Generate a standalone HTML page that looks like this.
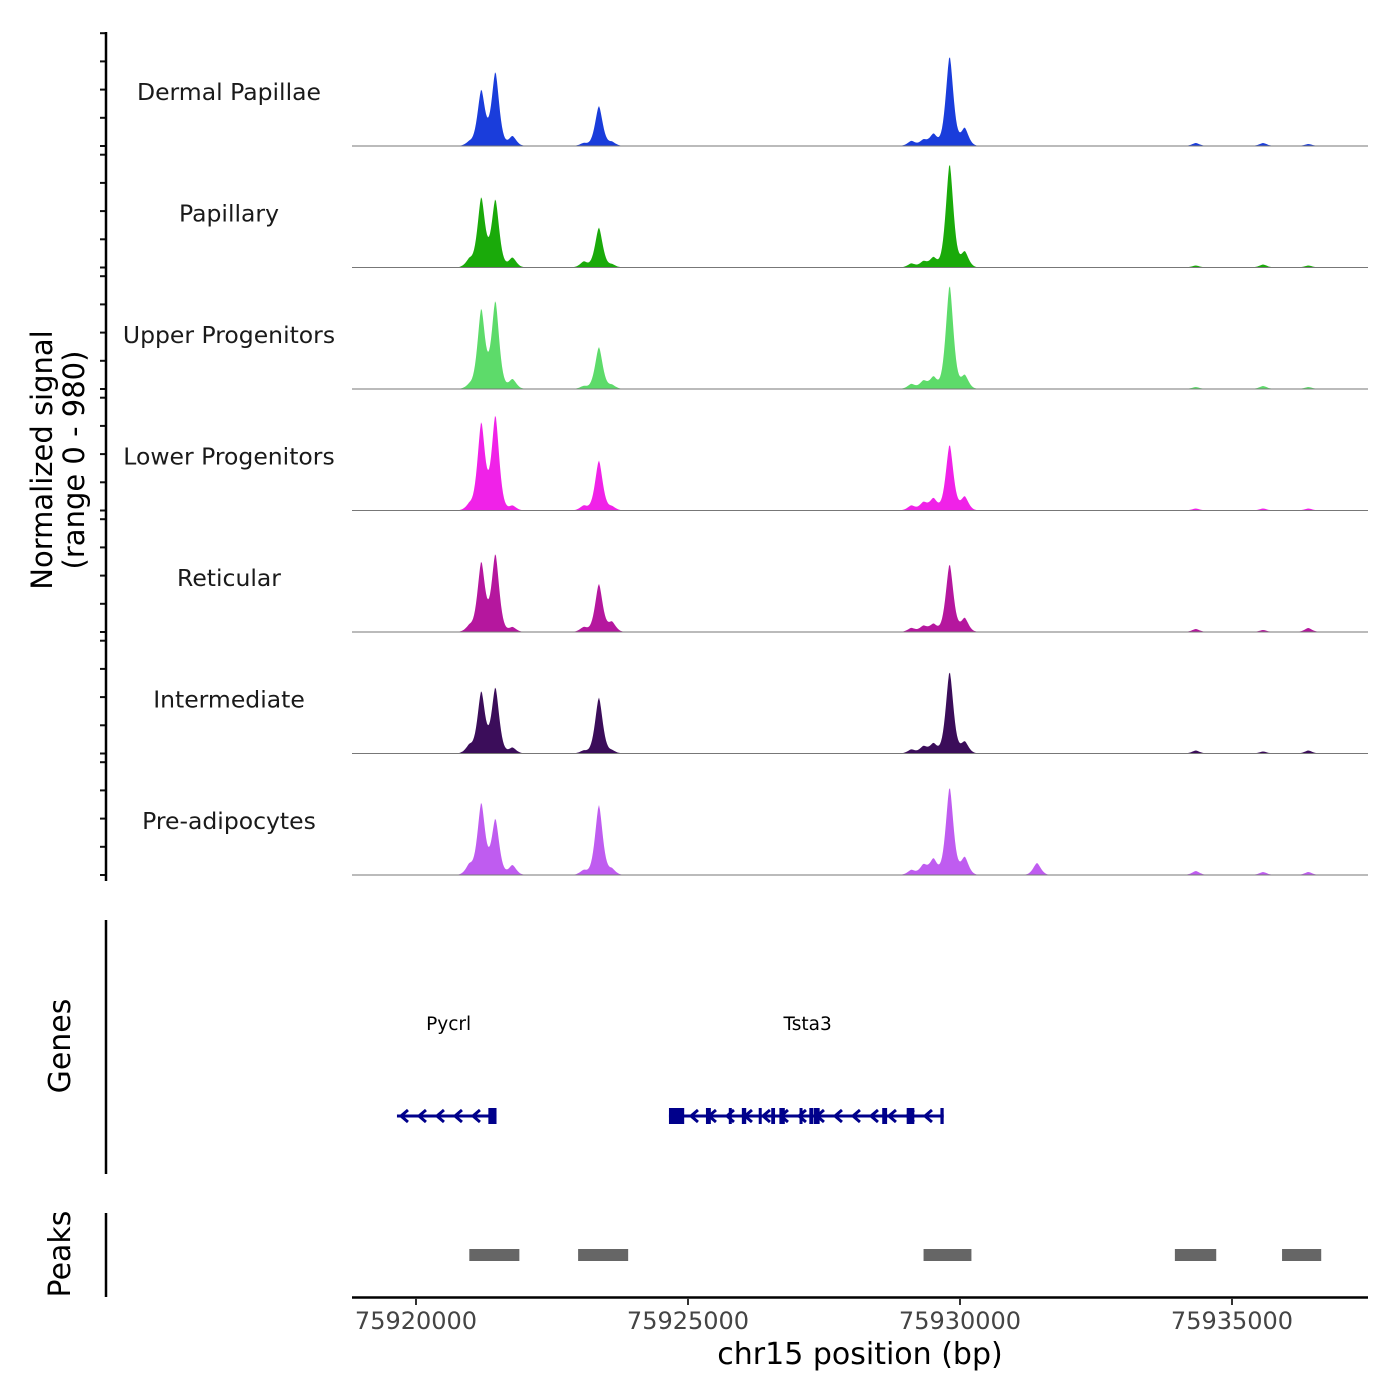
<!DOCTYPE html>
<html><head><meta charset="utf-8"><style>
body{margin:0;background:#fff}
svg{display:block;font-family:"DejaVu Sans","Liberation Sans",sans-serif}
</style></head><body>
<svg id="chart" width="1400" height="1400" viewBox="0 0 1400 1400"></svg>
<script>
const cellTypes=["Dermal Papillae","Papillary","Upper Progenitors","Lower Progenitors","Reticular","Intermediate","Pre-adipocytes"];
const colors=["#1a3ddb","#1aaa0a","#5ddb6a","#f022e8","#b5179e","#3b0d5a","#bf5cf0"];
const peakPos=[75920979,75921200,75921459,75921773,75923085,75923362,75923602,75929106,75929328,75929513,75929809,75930086,75931415,75934334,75935571,75936403];
const hDP=[4,56,74,10,3,40,4,5,6,12,90,18,0,3,3,2];
const hPap=[8,70,68,10,6,40,3,4,6,10,104,16,0,2,3,2];
const hUp=[4,80,88,10,3,42,4,5,8,12,104,14,0,2,3,2];
const hLow=[6,88,95,5,5,50,4,5,8,12,66,14,0,2,2,2];
const hRet=[6,70,78,5,5,48,10,4,6,8,68,14,0,3,2,4];
const hInt=[8,62,66,6,3,56,3,4,7,10,82,12,0,3,2,3];
const hPre=[10,72,56,10,5,70,6,5,10,16,88,18,12,4,3,3];
const heights=[hDP,hPap,hUp,hLow,hRet,hInt,hPre];
const xTicks=[75920000,75925000,75930000,75935000];
const genes=[{name:"Pycrl",start:75919650,end:75921480,label:75920600,exons:[[75921330,75921480]]},
 {name:"Tsta3",start:75924650,end:75929700,label:75927200,exons:[[75924650,75924930],[75925330,75925420],[75925990,75926070],[75926530,75926600],[75926680,75926780],[75927230,75927300],[75927310,75927420],[75928570,75928660],[75929020,75929160],[75929640,75929700],[75925750,75925800],[75926300,75926340],[75927050,75927100]]}];
const peaksStart=[75920980,75922980,75929330,75933950,75935920];
const peaksEnd=[75921900,75923900,75930210,75934710,75936640];

const NS="http://www.w3.org/2000/svg";
const svg=document.getElementById('chart');
function el(t,a,p){const e=document.createElementNS(NS,t);for(const k in a)e.setAttribute(k,a[k]);(p||svg).appendChild(e);return e;}
const X0=352,X1=1368,bp0=75920000,px0=416,pxPer=272/5000;
const xs=bp=>px0+(bp-bp0)*pxPer;
const bpMin=bp0+(X0-px0)/pxPer;
const trackTop=25,trackH=121.5;
for(let t=0;t<7;t++){
  const base=trackTop+trackH*(t+1)-0.5;
  const g=el('g',{});
  
  
  let d='M'+X0+','+base;
  for(let x=X0;x<=X1;x+=1){
    const bp=bpMin+(x-X0)/pxPer;let v=0;
    for(let i=0;i<peakPos.length;i++){const dd=Math.abs(bp-peakPos[i])/100;v+=heights[t][i]*Math.exp(-Math.pow(dd,1.6));}
    d+=' L'+x+','+(base-Math.min(v,trackH-4)).toFixed(1);
  }
  d+=' L'+X1+','+base+' Z';
  const p=el('path',{d:d,fill:colors[t]},g);
  
  
  el('line',{x1:X0,x2:X1,y1:base,y2:base,stroke:'#777','stroke-width':1},g);
  const lab=el('text',{x:229,y:base-46,'font-size':23.5,'text-anchor':'middle',fill:'#1a1a1a'},g);
  lab.textContent=cellTypes[t];
  
  
  for(let k=0;k<5;k++){const y=base-k*28.2;el('line',{x1:100,x2:106,y1:y,y2:y,stroke:'#111','stroke-width':2},g);}
}
el('line',{x1:106,x2:106,y1:32,y2:881,stroke:'#000','stroke-width':2.5});
const yt=el('text',{transform:'translate(52,460) rotate(-90)','font-size':29,'text-anchor':'middle',fill:'#000'});

yt.innerHTML='<tspan x="0" y="0">Normalized signal</tspan><tspan x="0" y="32">(range 0 - 980)</tspan>';
el('line',{x1:106,x2:106,y1:920,y2:1174,stroke:'#000','stroke-width':2.5});
const gt=el('text',{transform:'translate(70,1046) rotate(-90)','font-size':30,'text-anchor':'middle'});gt.textContent='Genes';

genes.forEach(gn=>{
  const g=el('g',{});
  
  
  const y=1116,a=xs(gn.start),b=xs(gn.end);
  el('line',{x1:a,x2:b,y1:y,y2:y,stroke:'#00008b','stroke-width':3},g);
  for(let x=a+4;x<b-8;x+=18){el('path',{d:`M${x+7},${y-6} L${x},${y} L${x+7},${y+6}`,fill:'none',stroke:'#00008b','stroke-width':3},g);}
  gn.exons.forEach(e=>el('rect',{x:xs(e[0]),y:y-8,width:Math.max(3,xs(e[1])-xs(e[0])),height:16,fill:'#00008b'},g));
  const t=el('text',{x:xs(gn.label),y:1030,'font-size':18.5,'text-anchor':'middle'},g);t.textContent=gn.name;
});
el('line',{x1:106,x2:106,y1:1213,y2:1297,stroke:'#000','stroke-width':2.5});
const pt=el('text',{transform:'translate(70,1254) rotate(-90)','font-size':30,'text-anchor':'middle'});pt.textContent='Peaks';

for(let i=0;i<peaksStart.length;i++){
  const r=el('rect',{x:xs(peaksStart[i]),y:1249,width:xs(peaksEnd[i])-xs(peaksStart[i]),height:12,fill:'#666'});
  
  
}
el('line',{x1:X0,x2:X1,y1:1297.5,y2:1297.5,stroke:'#000','stroke-width':2.5});
xTicks.forEach(v=>{const x=xs(v);el('line',{x1:x,x2:x,y1:1298,y2:1305,stroke:'#333','stroke-width':2});
  const t=el('text',{x:x,y:1329,'font-size':24,'text-anchor':'middle',fill:'#444'});t.textContent=v;
  });
const xt=el('text',{x:860,y:1364,'font-size':30,'text-anchor':'middle'});xt.textContent='chr15 position (bp)';

</script>
</body></html>
